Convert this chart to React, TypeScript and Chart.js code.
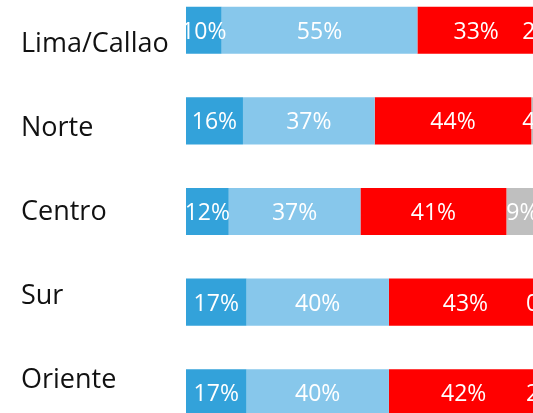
import React, { useEffect, useRef } from "react";
import { Chart, registerables } from "chart.js";

Chart.register(...registerables);

const regions = ["Lima/Callao", "Norte", "Centro", "Sur", "Oriente"];
const seriesA = [10, 16, 12, 17, 17];
const seriesB = [55, 37, 37, 40, 40];
const seriesC = [33, 44, 41, 43, 42];
const seriesD = [2, 4, 9, 0, 2];

const colors = ["#33A2DA", "#87C7EB", "#FF0000", "#BFBFBF"];

const CANVAS_W = 560;
const CANVAS_H = 453;

const labelFont = '27px "Open Sans"';
const valueFont = '23px "Open Sans"';

// text placement of the region labels (independent from the bars in the original)
const LABEL_FIRST = 56.7;
const LABEL_STEP = 84.1;

const categoryLabelsPlugin = {
  id: "categoryLabels",
  afterDraw(chart: any) {
    const ctx = chart.ctx;
    const top = chart.chartArea.top;
    ctx.save();
    ctx.font = labelFont;
    ctx.fillStyle = "#111111";
    ctx.textAlign = "left";
    ctx.textBaseline = "alphabetic";
    const capH = ctx.measureText("H").actualBoundingBoxAscent;
    regions.forEach((name, i) => {
      const y = top + LABEL_FIRST + LABEL_STEP * i;
      ctx.fillText(name, 21, y + capH / 2);
    });
    ctx.restore();
  },
};

const valueLabelsPlugin = {
  id: "valueLabels",
  afterDatasetsDraw(chart: any) {
    const ctx = chart.ctx;
    ctx.save();
    ctx.font = valueFont;
    ctx.fillStyle = "#FFFFFF";
    ctx.textAlign = "center";
    ctx.textBaseline = "alphabetic";
    const capH = ctx.measureText("0").actualBoundingBoxAscent;
    chart.data.datasets.forEach((ds: any, di: number) => {
      const meta = chart.getDatasetMeta(di);
      meta.data.forEach((el: any, i: number) => {
        const v = ds.data[i];
        const cx = (el.x + el.base) / 2;
        ctx.fillText(`${v}%`, cx, el.y + capH / 2);
      });
    });
    ctx.restore();
  },
};

export default function App() {
  const ref = useRef<HTMLCanvasElement | null>(null);

  useEffect(() => {
    let chart: Chart | null = null;
    let cancelled = false;
    const make = () => {
      if (cancelled || !ref.current) return;
      const series = [seriesA, seriesB, seriesC, seriesD];
      chart = new Chart(ref.current, {
        type: "bar",
        data: {
          labels: regions,
          datasets: series.map((d, i) => ({
            label: `s${i}`,
            data: d,
            backgroundColor: colors[i],
            borderWidth: 0,
            categoryPercentage: 1,
            barPercentage: 0.52,
          })),
        },
        options: {
          indexAxis: "y",
          animation: false,
          responsive: false,
          layout: { padding: { left: 186, right: 18, top: 0, bottom: 0 } },
          plugins: {
            legend: { display: false },
            tooltip: { enabled: false },
          },
          scales: {
            x: { stacked: true, min: 0, max: 100, display: false },
            y: { stacked: true, display: false },
          },
        },
        plugins: [categoryLabelsPlugin, valueLabelsPlugin],
      } as any);
    };
    const fonts = (document as any).fonts;
    if (fonts && fonts.load) {
      Promise.all([fonts.load(labelFont), fonts.load(valueFont)])
        .catch(() => null)
        .then(make);
    } else {
      make();
    }
    return () => {
      cancelled = true;
      if (chart) chart.destroy();
    };
  }, []);

  return (
    <div
      style={{
        position: "fixed",
        left: 0,
        top: 0,
        width: 533,
        height: 413,
        overflow: "hidden",
        background: "#fff",
      }}
    >
      <div style={{ position: "absolute", left: 0, top: -15, width: CANVAS_W, height: CANVAS_H }}>
        <canvas
          ref={ref}
          width={CANVAS_W}
          height={CANVAS_H}
          style={{ width: CANVAS_W, height: CANVAS_H, display: "block" }}
        />
      </div>
    </div>
  );
}
